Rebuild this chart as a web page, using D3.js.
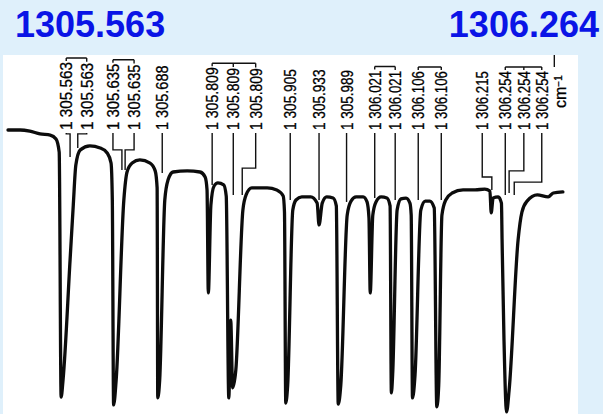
<!DOCTYPE html>
<html>
<head>
<meta charset="utf-8">
<script src="https://cdn.jsdelivr.net/npm/d3@7"></script>
<style>
  body { margin: 0; background: #dff0fb; }
  svg { display: block; }
</style>
</head>
<body>
<div id="chart"></div>
<script>
// range shown in the two headings
var titleLeft = "1305.563"
var titleRight = "1306.264"

var traceWavenumber = [
  1305.475, 1305.494, 1305.509, 1305.525, 1305.541, 1305.550, 1305.555, 1305.558, 1305.561, 1305.572,
  1305.577, 1305.581, 1305.588, 1305.603, 1305.619, 1305.630, 1305.636, 1305.638, 1305.640, 1305.644,
  1305.656, 1305.661, 1305.669, 1305.681, 1305.697, 1305.705, 1305.708, 1305.709, 1305.712, 1305.720,
  1305.725, 1305.733, 1305.755, 1305.775, 1305.783, 1305.786, 1305.788, 1305.792, 1305.797, 1305.803,
  1305.812, 1305.816, 1305.820, 1305.823, 1305.826, 1305.831, 1305.842, 1305.847, 1305.856, 1305.880,
  1305.895, 1305.905, 1305.907, 1305.909, 1305.912, 1305.920, 1305.925, 1305.934, 1305.948, 1305.958,
  1305.961, 1305.966, 1305.973, 1305.983, 1305.988, 1305.991, 1305.995, 1306.005, 1306.011, 1306.019,
  1306.030, 1306.036, 1306.039, 1306.041, 1306.045, 1306.050, 1306.058, 1306.067, 1306.072, 1306.074,
  1306.076, 1306.083, 1306.089, 1306.097, 1306.103, 1306.105, 1306.107, 1306.111, 1306.120, 1306.127,
  1306.134, 1306.141, 1306.145, 1306.148, 1306.153, 1306.159, 1306.169, 1306.186, 1306.205, 1306.220,
  1306.228, 1306.230, 1306.233, 1306.241, 1306.246, 1306.247, 1306.250, 1306.254, 1306.258, 1306.272,
  1306.278, 1306.286, 1306.302, 1306.319, 1306.327, 1306.342
]
var traceT = [
  100, 100, 99.6, 98.6, 98.2, 96.8, 92.1, 4.6, 10.7, 53.6,
  73.2, 87.5, 92.9, 94.3, 93.6, 91.8, 88.2, 75, 1.8, 10.7,
  75, 85, 88.2, 89.3, 88.2, 85.4, 79.3, 4.3, 10.7, 75,
  82.1, 85, 85.4, 85, 83.2, 78.6, 41.8, 73.2, 80, 81.1,
  80.4, 76.4, 4.3, 32.1, 7.9, 14.3, 71.4, 76.8, 79.3, 79.3,
  78.6, 76.4, 70.7, 2.5, 8.9, 71.4, 75, 76.1, 76.1, 73.9,
  66.1, 73.9, 76.1, 75.7, 72.9, 2.1, 8.9, 69.6, 74.6, 76.1,
  76.1, 74.3, 68.6, 41.8, 69.6, 74.3, 76.1, 75.7, 72.9, 6.1,
  12.5, 71.4, 75.4, 75.7, 73.9, 69.6, 4.3, 12.5, 71.4, 74.6,
  74.6, 72.1, 1.1, 8.9, 69.6, 75, 77.5, 78.6, 78.6, 78.9,
  78.2, 70.4, 75.7, 76.1, 73.9, 60.7, 25, -0.7, 7.1, 60.7,
  70.7, 74.6, 76.8, 76.1, 77.5, 77.9
]

// line assignments written above the trace
var peakLabels = [
  "1 305.563", "1 305.563", "1 305.635", "1 305.635", "1 305.688",
  "1 305.809", "1 305.809", "1 305.809", "1 305.905", "1 305.933",
  "1 305.989", "1 306.021", "1 306.021", "1 306.106", "1 306.106",
  "1 306.215", "1 306.254", "1 306.254", "1 306.254"
]
// where each label stands on the wavenumber axis
var labelAt = [
  1305.566, 1305.598, 1305.639, 1305.672, 1305.716,
  1305.794, 1305.827, 1305.862, 1305.916, 1305.961,
  1306.004, 1306.048, 1306.080, 1306.116, 1306.152,
  1306.216, 1306.252, 1306.281, 1306.309
]
// where each leader line drops to, its bend level and its end level (T %)
var leaderTo = [
  1305.572, 1305.584, 1305.653, 1305.658, 1305.716,
  1305.794, 1305.827, 1305.841, 1305.916, 1305.961,
  1306.004, 1306.048, 1306.080, 1306.116, 1306.152,
  1306.231, 1306.252, 1306.258, 1306.266
]
var leaderBendT = [
  98.6, 98.6, 92.9, 92.9, null,
  null, null, 86.4, null, null,
  null, null, null, null, null,
  83.2, null, 85.4, 81.4
]
var leaderEndT = [
  90.4, 93.6, 85.7, 85.7, 84.6,
  80.4, 76.8, 76.8, 75, 75,
  74.3, 75.7, 75, 75, 75,
  78.6, 76.8, 77.5, 76.8
]
// labels joined by a bracket at the top
var bracketGroups = [[0, 1], [2, 3], [5, 6, 7], [11, 12], [13, 14], [16, 17, 18]]
var unitLabel = "cm"
var unitAt = 1306.338

var width = 603
var height = 414

var svg = d3.select("#chart").append("svg")
    .attr("width", width)
    .attr("height", height)

// white paper of the scan
svg.append("rect")
    .attr("x", 3)
    .attr("y", 55)
    .attr("width", 575)
    .attr("height", height - 55)
    .attr("fill", "#ffffff")

svg.append("text")
    .attr("x", 15)
    .attr("y", 37)
    .attr("font-family", "'Liberation Sans', Arial, sans-serif")
    .attr("font-weight", "bold")
    .attr("font-size", 36)
    .attr("fill", "#0a14e6")
    .text(titleLeft)

svg.append("text")
    .attr("x", 599)
    .attr("y", 37)
    .attr("text-anchor", "end")
    .attr("font-family", "'Liberation Sans', Arial, sans-serif")
    .attr("font-weight", "bold")
    .attr("font-size", 36)
    .attr("fill", "#0a14e6")
    .text(titleRight)

var x = d3.scaleLinear()
    .domain([1305.475, 1306.345])
    .range([8, 564.8])

var y = d3.scaleLinear()
    .domain([0, 100])
    .range([410, 130])

var trace = traceWavenumber.map(function(w, i) { return [w, traceT[i]] })

var line = d3.line()
    .x(function(d) { return x(d[0]) })
    .y(function(d) { return y(d[1]) })
    .curve(d3.curveMonotoneX)

svg.append("path")
    .datum(trace)
    .attr("fill", "none")
    .attr("stroke", "#0c0c0c")
    .attr("stroke-width", 3.3)
    .attr("stroke-linejoin", "round")
    .attr("stroke-linecap", "round")
    .attr("d", line)

// labels are a bit shorter towards the right of the scan
var labelBottom = 130
var labelLength = d3.scaleLinear()
    .domain([66, 233, 400])
    .range([68, 62, 59])
    .clamp(true)

var labels = svg.append("g")
    .selectAll("text")
    .data(peakLabels)
    .enter().append("text")
        .attr("transform", function(d, i) { return "translate(" + x(labelAt[i]) + "," + labelBottom + ") rotate(-90)" })
        .attr("dy", "0.36em")
        .attr("font-family", "'Liberation Sans', Arial, sans-serif")
        .attr("font-size", 17)
        .attr("fill", "#000")
        .attr("stroke", "#000")
        .attr("stroke-width", 0.3)
        .attr("textLength", function(d, i) { return labelLength(x(labelAt[i])) })
        .attr("lengthAdjust", "spacingAndGlyphs")
        .text(function(d) { return d })

function labelTop(i) {
    return labelBottom - labelLength(x(labelAt[i]))
}

// brackets over grouped labels
svg.append("g")
    .selectAll("path")
    .data(bracketGroups)
    .enter().append("path")
        .attr("fill", "none")
        .attr("stroke", "#111")
        .attr("stroke-width", 1.4)
        .attr("d", function(g) {
            var top = d3.min(g, labelTop) - 4
            var p = "M" + x(labelAt[g[0]]) + "," + top + "H" + x(labelAt[g[g.length - 1]])
            g.forEach(function(i) {
                p += "M" + x(labelAt[i]) + "," + top + "V" + (labelTop(i) - 1)
            })
            return p
        })

// leader lines down to the trace
svg.append("g")
    .selectAll("path")
    .data(peakLabels)
    .enter().append("path")
        .attr("fill", "none")
        .attr("stroke", "#111")
        .attr("stroke-width", 1.4)
        .attr("d", function(d, i) {
            var x0 = x(labelAt[i])
            var p = "M" + x0 + "," + (labelBottom + 3)
            if (leaderBendT[i] != null) {
                p += "V" + y(leaderBendT[i]) + "H" + x(leaderTo[i])
            }
            return p + "V" + y(leaderEndT[i])
        })

// unit
var unit = svg.append("text")
    .attr("transform", "translate(" + x(unitAt) + ",108) rotate(-90)")
    .attr("dy", "0.36em")
    .attr("font-family", "'Liberation Sans', Arial, sans-serif")
    .attr("font-size", 16)
    .attr("fill", "#000")
    .attr("stroke", "#000")
    .attr("stroke-width", 0.3)
    .text(unitLabel)
unit.append("tspan")
    .attr("dy", "-0.45em")
    .attr("font-size", 10)
    .text("\u2212" + "1")

svg.append("path")
    .attr("fill", "none")
    .attr("stroke", "#111")
    .attr("stroke-width", 1.4)
    .attr("d", "M" + (x(unitAt) - 6) + ",55V67")
</script>
</body>
</html>
